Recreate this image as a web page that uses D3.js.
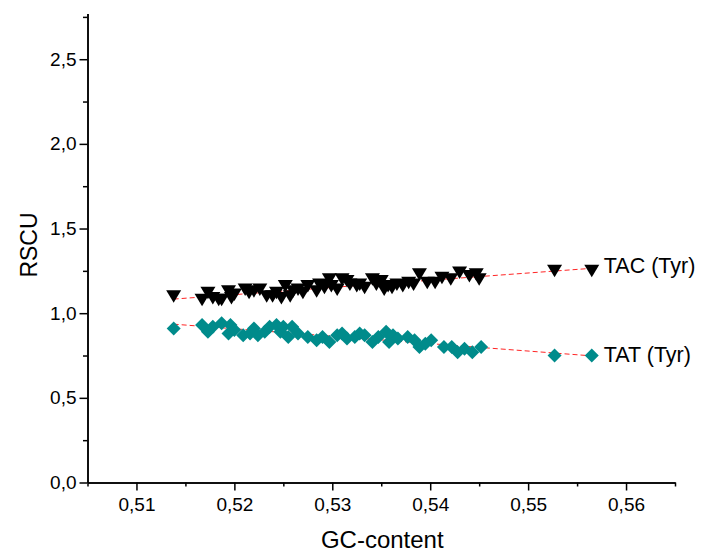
<!DOCTYPE html>
<html>
<head>
<meta charset="utf-8">
<script src="https://cdn.jsdelivr.net/npm/d3@7"></script>
<style>
  body { margin: 0; background: #fff; }
  svg { font-family: Arial, "Liberation Sans", sans-serif; }
  .axis path, .axis line { stroke: #000; stroke-width: 1.5; }
  .axis text { font-size: 19px; fill: #000; }
</style>
</head>
<body>
<div id="chart"></div>
<script>
const svgWidth = 705,
      svgHeight = 558,
      margin = {top: 13.5, right: 30, bottom: 75.5, left: 87.5},
      width = svgWidth - margin.left - margin.right,
      height = svgHeight - margin.top - margin.bottom;

// GC-content of each genome and RSCU of the codon
let gcTAC = [0.5138, 0.5167, 0.5173, 0.5178, 0.5184, 0.5187, 0.5194, 0.5197, 0.5200, 0.5211,
             0.5215, 0.5220, 0.5226, 0.5233, 0.5239, 0.5243, 0.5248, 0.5252, 0.5257, 0.5260,
             0.5265, 0.5270, 0.5275, 0.5284, 0.5287, 0.5292, 0.5297, 0.5299, 0.5305, 0.5310,
             0.5315, 0.5318, 0.5325, 0.5328, 0.5333, 0.5341, 0.5345, 0.5350, 0.5353, 0.5357,
             0.5361, 0.5366, 0.5372, 0.5378, 0.5383, 0.5389, 0.5397, 0.5405, 0.5412, 0.5421,
             0.5430, 0.5440, 0.5447, 0.5450, 0.5527, 0.5565];
let rscuTAC = [1.10, 1.08, 1.12, 1.09, 1.08, 1.08, 1.13, 1.09, 1.11, 1.14,
               1.12, 1.13, 1.14, 1.10, 1.10, 1.12, 1.09, 1.16, 1.10, 1.13,
               1.14, 1.12, 1.16, 1.13, 1.17, 1.15, 1.20, 1.16, 1.14, 1.20,
               1.19, 1.17, 1.16, 1.17, 1.15, 1.20, 1.17, 1.19, 1.14, 1.16,
               1.15, 1.17, 1.16, 1.18, 1.17, 1.23, 1.18, 1.18, 1.21, 1.20,
               1.24, 1.22, 1.23, 1.20, 1.25, 1.25];

let gcTAT = [0.5138, 0.5167, 0.5173, 0.5178, 0.5187, 0.5194, 0.5196, 0.5200, 0.5209, 0.5216,
             0.5220, 0.5224, 0.5231, 0.5236, 0.5243, 0.5247, 0.5250, 0.5255, 0.5259, 0.5265,
             0.5275, 0.5284, 0.5290, 0.5297, 0.5305, 0.5310, 0.5315, 0.5323, 0.5328, 0.5333,
             0.5341, 0.5347, 0.5355, 0.5358, 0.5362, 0.5367, 0.5377, 0.5384, 0.5389, 0.5395,
             0.5401, 0.5414, 0.5422, 0.5428, 0.5435, 0.5443, 0.5452, 0.5527, 0.5565];
let rscuTAT = [0.91, 0.93, 0.89, 0.92, 0.94, 0.88, 0.93, 0.90, 0.87, 0.88,
               0.91, 0.87, 0.89, 0.92, 0.93, 0.89, 0.92, 0.86, 0.92, 0.88,
               0.86, 0.84, 0.86, 0.83, 0.87, 0.88, 0.85, 0.86, 0.88, 0.87,
               0.83, 0.86, 0.89, 0.83, 0.87, 0.85, 0.86, 0.84, 0.80, 0.82,
               0.84, 0.80, 0.80, 0.77, 0.79, 0.77, 0.80, 0.75, 0.75];

let seriesNames = ["TAC (Tyr)", "TAT (Tyr)"];
let xTicks = [0.51, 0.52, 0.53, 0.54, 0.55, 0.56];
let yTicks = [0, 0.5, 1.0, 1.5, 2.0, 2.5];

let scaleX = d3.scaleLinear().domain([0.505, 0.565]).range([0, width]),
    scaleY = d3.scaleLinear().domain([0, 2.77]).range([height, 0]);

// marker outlines: down triangle and square diamond
let triangleDown = "M-7.5,-6L7.5,-6L0,6.5Z",
    diamond = "M0,-7L7,0L0,7L-7,0Z";

let series = [
  {name: seriesNames[0], x: gcTAC, y: rscuTAC, shape: triangleDown, color: "#000", dy: 2},
  {name: seriesNames[1], x: gcTAT, y: rscuTAT, shape: diamond, color: "#008b8b", dy: 6}
];

let svg = d3.select("#chart")
  .append("svg")
  .attr("width", svgWidth)
  .attr("height", svgHeight);

let g = svg.append("g")
  .attr("transform", "translate(" + margin.left + "," + margin.top + ")");

// minor ticks first, then major ticks with labels
g.append("g")
  .attr("class", "axis")
  .attr("transform", "translate(0," + height + ")")
  .call(d3.axisBottom(scaleX).tickValues(d3.range(0.505, 0.566, 0.01)).tickSize(4).tickSizeOuter(0).tickFormat(""));
g.append("g")
  .attr("class", "axis")
  .attr("transform", "translate(0," + height + ")")
  .call(d3.axisBottom(scaleX).tickValues(xTicks).tickSize(8).tickSizeOuter(0).tickPadding(7)
        .tickFormat(d => d3.format(".2f")(d).replace(".", ",")));

g.append("g")
  .attr("class", "axis")
  .call(d3.axisLeft(scaleY).tickValues([0.25, 0.75, 1.25, 1.75, 2.25, 2.75]).tickSize(4.5).tickSizeOuter(0).tickFormat(""));
g.append("g")
  .attr("class", "axis")
  .call(d3.axisLeft(scaleY).tickValues(yTicks).tickSize(8).tickSizeOuter(0).tickPadding(3)
        .tickFormat(d => d3.format(".1f")(d).replace(".", ",")));

// axis titles
svg.append("text")
  .attr("transform", "translate(37," + (margin.top + height / 2 - 3) + ")rotate(-90)")
  .style("text-anchor", "middle")
  .style("font-size", "23px")
  .text("RSCU");

svg.append("text")
  .attr("x", margin.left + width / 2 + 1)
  .attr("y", 548)
  .style("text-anchor", "middle")
  .style("font-size", "24px")
  .text("GC-content");

// linear fit for each series, drawn as red dashed line
series.forEach(function(s) {
  let pts = s.x.map((v, i) => [v, s.y[i]]);
  let mx = d3.mean(s.x), my = d3.mean(s.y);
  let slope = d3.sum(pts, p => (p[0] - mx) * (p[1] - my)) / d3.sum(pts, p => (p[0] - mx) * (p[0] - mx));
  let inter = my - slope * mx;
  let ext = d3.extent(s.x);
  g.append("line")
    .attr("x1", scaleX(ext[0]))
    .attr("y1", scaleY(inter + slope * ext[0]))
    .attr("x2", scaleX(ext[1]))
    .attr("y2", scaleY(inter + slope * ext[1]))
    .attr("stroke", "#ff0000")
    .attr("stroke-width", 1)
    .attr("stroke-dasharray", "5,3")
    .attr("opacity", 0.85);
});

// markers
series.forEach(function(s) {
  g.append("g")
    .selectAll("path")
    .data(s.x.map((v, i) => [v, s.y[i]]))
    .enter()
    .append("path")
    .attr("d", s.shape)
    .attr("transform", d => "translate(" + scaleX(d[0]) + "," + scaleY(d[1]) + ")")
    .attr("fill", s.color);
});

// series labels next to the last point
series.forEach(function(s) {
  let n = s.x.length - 1;
  g.append("text")
    .attr("x", scaleX(s.x[n]) + 12)
    .attr("y", scaleY(s.y[n]) + s.dy)
    .style("font-size", "21.5px")
    .text(s.name);
});
</script>
</body>
</html>
